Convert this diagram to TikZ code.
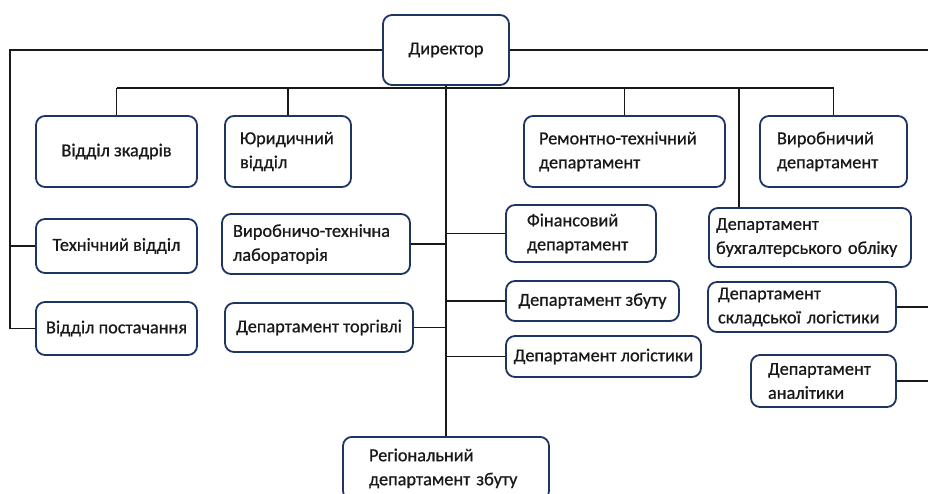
\documentclass[tikz,border=0pt]{standalone}
\usepackage{fontspec}
\setmainfont{Carlito}[FakeBold=0.6]
\newfontfamily\boxfont{Carlito}[AutoFakeBold=0.7]
\definecolor{boxline}{RGB}{31,52,96}
\begin{document}
\begin{tikzpicture}[x=1pt,y=-1pt,
  box/.style={draw=boxline, line width=1.8pt, rounded corners=9pt, fill=white,
    inner ysep=0pt, font=\boxfont\bfseries\fontsize{18.3}{24}\selectfont, text=black!90},
  lbox/.style={box, align=left},
  cbox/.style={box, align=center},
  link/.style={draw=black!90, line width=1.8pt}]
\clip (0,0) rectangle (928,493);
\fill[white] (0,0) rectangle (928,493);

% boxes
\node[cbox, minimum width=126pt, minimum height=70pt] (dir) at (446,50) {Директор};
\node[cbox, minimum width=161pt, minimum height=71pt] (kadr) at (116.5,151.5) {Відділ зкадрів};
\node[lbox, text width=96pt, inner xsep=15pt, minimum height=71pt] (yur) at (288,151.5) {Юридичний\\відділ};
\node[lbox, text width=171pt, inner xsep=15pt, minimum height=71pt] (rem) at (624.5,151.5) {Ремонтно-технічний\\департамент};
\node[lbox, text width=113pt, inner xsep=17pt, minimum height=71pt] (vyr) at (833.5,151.5) {Виробничий\\департамент};
\node[cbox, minimum width=161pt, minimum height=54pt] (tekh) at (116.5,246) {Технічний відділ};
\node[lbox, text width=166pt, inner xsep=11pt, minimum height=60pt] (lab) at (316,244) {Виробничо-технічна\\лабораторія};
\node[cbox, minimum width=161pt, minimum height=53pt] (post) at (116.5,328.5) {Відділ постачання};
\node[cbox, minimum width=188pt, minimum height=49pt] (torg) at (319,327.5) {Департамент торгівлі};
\node[lbox, text width=108pt, inner xsep=21pt, minimum height=57pt] (fin) at (581,233.5) {Фінансовий\\департамент};
\node[cbox, minimum width=173pt, minimum height=40pt] (zbut) at (592.5,301) {Департамент збуту};
\node[cbox, minimum width=195pt, minimum height=41pt] (logi) at (603.5,356.5) {Департамент логістики};
\node[lbox, text width=188pt, inner xsep=7pt, minimum height=59pt] (buh) at (810,237.5) {Департамент\\бухгалтерського обліку};
\node[lbox, text width=168pt, inner xsep=10pt, minimum height=50pt] (skl) at (802,307) {Департамент\\складської логістики};
\node[lbox, text width=111pt, inner xsep=17pt, minimum height=52pt] (anal) at (823.5,381) {Департамент\\аналітики};
\node[lbox, text width=154pt, inner xsep=26pt, minimum height=63pt, anchor=north] (reg) at (446,436) {Регіональний\\департамент збуту};

% named free ends
\coordinate (bus) at (0,88);
\coordinate (lft) at (10,0);
\coordinate (rgt) at (928,0);
\coordinate (buhdrop) at (739,0);

% connectors
\draw[link] (dir.west) -- (dir.west -| lft) -- (post.west -| lft) -- (post.west);
\draw[link] (tekh.west -| lft) -- (tekh.west);
\draw[link] (dir.east) -- (dir.east -| rgt);
\draw[link] (kadr.north |- bus) -- (vyr.north |- bus);
\draw[link] (kadr.north |- bus) -- (kadr.north);
\draw[link] (yur.north |- bus) -- (yur.north);
\draw[link] (rem.north |- bus) -- (rem.north);
\draw[link] (vyr.north |- bus) -- (vyr.north);
\draw[link] (buhdrop |- bus) -- (buhdrop |- buh.north);
\draw[link] (dir.south) -- (reg.north);
\draw[link] (lab.east) -- (lab.east -| dir.south);
\draw[link] (torg.east) -- (torg.east -| dir.south);
\draw[link] (fin.west) -- (fin.west -| dir.south);
\draw[link] (zbut.west) -- (zbut.west -| dir.south);
\draw[link] (logi.west) -- (logi.west -| dir.south);
\draw[link] (skl.east) -- (skl.east -| rgt);
\draw[link] (anal.east) -- (anal.east -| rgt);
\end{tikzpicture}
\end{document}
